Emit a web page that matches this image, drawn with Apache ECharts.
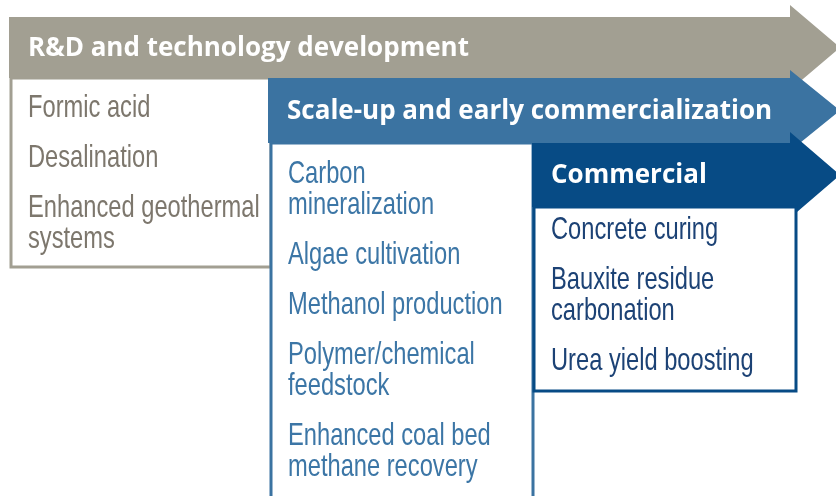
<!DOCTYPE html>
<html>
<head>
<meta charset="utf-8">
<script src="https://cdn.jsdelivr.net/npm/echarts@6/dist/echarts.min.js"></script>
<style>
  html, body { margin: 0; padding: 0; background: #fff; }
  #main { width: 836px; height: 496px; }
</style>
</head>
<body>
<div id="main"></div>
<script>
// stage titles, from earliest to most mature
var stageTitles = [
  "R&D and technology development",
  "Scale-up and early commercialization",
  "Commercial"
];
// items listed under each stage (each inner array = lines of one item)
var rdItems = [["Formic acid"], ["Desalination"], ["Enhanced geothermal", "systems"]];
var scaleItems = [
  ["Carbon", "mineralization"],
  ["Algae cultivation"],
  ["Methanol production"],
  ["Polymer/chemical", "feedstock"],
  ["Enhanced coal bed", "methane recovery"]
];
var commercialItems = [["Concrete curing"], ["Bauxite residue", "carbonation"], ["Urea yield boosting"]];

var chart = echarts.init(document.getElementById("main"))

// layout of each stage: arrow band, head, list box
var stages = [
  { left: 9, top: 17, bottom: 78, headUp: 12, headDown: 12, fill: "#a29f92", text: "#7d776d",
    box: [11, 78, 260, 189], items: rdItems, firstY: 108 },
  { left: 268, top: 78, bottom: 143, headUp: 8, headDown: 8, fill: "#3b73a1", text: "#3c76a6",
    box: [271, 143, 262, 400], items: scaleItems, firstY: 174 },
  { left: 532, top: 143, bottom: 207, headUp: 11, headDown: 11, fill: "#074b85", text: "#1c4275",
    box: [534, 207, 262, 184], items: commercialItems, firstY: 230 }
]

var shaftEnd = 790
var tipX = 840
// no condensed face installed: squeeze a regular sans horizontally
var itemFont = "'Liberation Sans', Arial, sans-serif"
var itemSqueeze = 0.74
var titleFont = "'Open Sans', sans-serif"

var elements = []
stages.forEach(function(s, i) {
    var mid = (s.top + s.bottom) / 2
    // arrow
    elements.push({
        type: "polygon",
        shape: {
            points: [
                [s.left, s.top], [shaftEnd, s.top], [shaftEnd, s.top - s.headUp],
                [tipX, mid], [shaftEnd, s.bottom + s.headDown], [shaftEnd, s.bottom],
                [s.left, s.bottom]
            ]
        },
        style: { fill: s.fill }
    })
    elements.push({
        type: "text",
        x: s.left + 19,
        y: mid + 1,
        style: {
            text: stageTitles[i],
            fill: "#ffffff",
            font: "bold 26px " + titleFont,
            verticalAlign: "middle"
        }
    })
    // list box
    elements.push({
        type: "rect",
        shape: { x: s.box[0], y: s.box[1], width: s.box[2], height: s.box[3] },
        style: { fill: "#ffffff", stroke: s.fill, lineWidth: 3 }
    })
    var y = s.firstY
    s.items.forEach(function(lines) {
        lines.forEach(function(line, k) {
            elements.push({
                type: "text",
                x: s.box[0] + 17,
                y: y + k * 31,
                scaleX: itemSqueeze,
                style: {
                    text: line,
                    fill: s.text,
                    font: "32px " + itemFont,
                    verticalAlign: "middle"
                }
            })
        })
        y += (lines.length - 1) * 31 + 50
    })
})

var option = {
    animation: false,
    graphic: { elements: elements }
}
chart.setOption(option)
</script>
</body>
</html>
